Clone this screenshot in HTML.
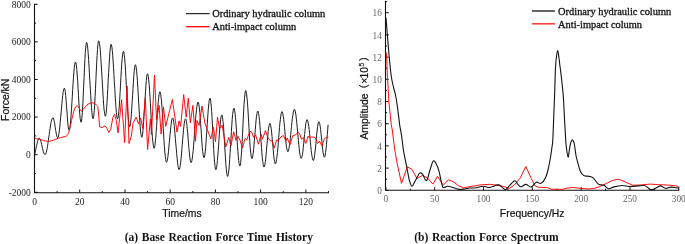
<!DOCTYPE html>
<html><head><meta charset="utf-8"><title>Reaction force charts</title>
<style>
html,body{margin:0;padding:0;background:#fff;}
body{width:685px;height:244px;overflow:hidden;}
svg{display:block}
.tk{font-family:"Liberation Serif","Times New Roman",serif;font-size:9.5px;fill:#222;}
.tk2{font-family:"Liberation Serif","Times New Roman",serif;font-size:9.3px;fill:#666;}
.lg{font-family:"Liberation Serif","Times New Roman",serif;font-size:10.4px;fill:#111;stroke:#111;stroke-width:0.3px;}
.ax{font-family:"Liberation Sans",Arial,sans-serif;font-size:10.4px;fill:#111;stroke:#111;stroke-width:0.2px;}
.cap{font-family:"Liberation Serif","Times New Roman",serif;font-size:11.5px;font-weight:bold;fill:#111;word-spacing:0.8px;}
</style></head><body>
<svg width="685" height="244" viewBox="0 0 685 244">
<rect width="685" height="244" fill="#fff"/>
<!-- left chart -->
<path d="M34.5,3.7 V192.7 H329.0" fill="none" stroke="#111" stroke-width="1.1"/>
<path d="M34.5,192.3h3.2 M34.5,173.5h1.6 M34.5,154.7h3.2 M34.5,135.9h1.6 M34.5,117.1h3.2 M34.5,98.3h1.6 M34.5,79.5h3.2 M34.5,60.7h1.6 M34.5,41.9h3.2 M34.5,23.1h1.6 M34.5,4.3h3.2 M34.5,192.7v-3.2 M57.1,192.7v-1.6 M79.7,192.7v-3.2 M102.3,192.7v-1.6 M125.0,192.7v-3.2 M147.6,192.7v-1.6 M170.2,192.7v-3.2 M192.8,192.7v-1.6 M215.4,192.7v-3.2 M238.0,192.7v-1.6 M260.6,192.7v-3.2 M283.3,192.7v-1.6 M305.9,192.7v-3.2 M328.5,192.7v-1.6" fill="none" stroke="#111" stroke-width="1"/>
<text class="tk" x="30.8" y="195.5" text-anchor="end">-2000</text>
<text class="tk" x="30.8" y="157.9" text-anchor="end">0</text>
<text class="tk" x="30.8" y="120.3" text-anchor="end">2000</text>
<text class="tk" x="30.8" y="82.7" text-anchor="end">4000</text>
<text class="tk" x="30.8" y="45.1" text-anchor="end">6000</text>
<text class="tk" x="30.8" y="7.5" text-anchor="end">8000</text>
<text class="tk" x="34.5" y="204.7" text-anchor="middle">0</text>
<text class="tk" x="79.7" y="204.7" text-anchor="middle">20</text>
<text class="tk" x="125.0" y="204.7" text-anchor="middle">40</text>
<text class="tk" x="170.2" y="204.7" text-anchor="middle">60</text>
<text class="tk" x="215.4" y="204.7" text-anchor="middle">80</text>
<text class="tk" x="260.6" y="204.7" text-anchor="middle">100</text>
<text class="tk" x="305.9" y="204.7" text-anchor="middle">120</text>
<path d="M34.6,154.5 L35.0,153.1 L35.4,151.3 L35.8,149.4 L36.2,147.3 L36.7,145.3 L37.1,143.4 L37.5,141.6 L37.9,140.2 L38.4,139.1 L38.8,138.4 L39.2,138.2 L39.6,138.4 L40.0,139.0 L40.4,140.0 L40.9,141.3 L41.3,142.9 L41.7,144.6 L42.1,146.4 L42.5,148.3 L42.9,150.0 L43.3,151.6 L43.8,152.9 L44.2,153.9 L44.6,154.5 L45.0,154.7 L45.4,154.4 L45.8,153.7 L46.2,152.5 L46.7,150.8 L47.1,148.7 L47.5,146.3 L47.9,143.6 L48.3,140.7 L48.7,137.7 L49.2,134.6 L49.6,131.6 L50.0,128.7 L50.4,126.0 L50.8,123.6 L51.2,121.5 L51.7,119.8 L52.1,118.6 L52.5,117.9 L52.9,117.6 L53.3,117.9 L53.7,119.0 L54.1,120.6 L54.5,122.6 L54.9,125.1 L55.3,127.7 L55.7,130.3 L56.1,132.8 L56.5,134.8 L56.9,136.4 L57.3,137.5 L57.7,137.8 L58.1,137.3 L58.5,135.9 L59.0,133.6 L59.4,130.5 L59.8,126.8 L60.2,122.5 L60.6,117.8 L61.1,113.0 L61.5,108.2 L61.9,103.5 L62.3,99.2 L62.7,95.5 L63.1,92.4 L63.6,90.1 L64.0,88.7 L64.4,88.2 L64.8,89.1 L65.3,91.5 L65.7,95.5 L66.1,100.5 L66.5,106.3 L67.0,112.2 L67.4,118.0 L67.8,123.0 L68.2,127.0 L68.7,129.4 L69.1,130.3 L69.5,129.6 L69.9,127.7 L70.3,124.5 L70.7,120.3 L71.1,115.1 L71.5,109.2 L71.9,102.8 L72.3,96.2 L72.7,89.5 L73.1,83.1 L73.5,77.2 L73.9,72.0 L74.3,67.8 L74.7,64.6 L75.1,62.7 L75.5,62.0 L75.9,62.9 L76.4,65.5 L76.8,69.6 L77.2,75.0 L77.7,81.5 L78.1,88.5 L78.5,95.8 L78.9,102.8 L79.4,109.3 L79.8,114.7 L80.2,118.8 L80.7,121.4 L81.1,122.3 L81.5,121.1 L81.9,117.7 L82.4,112.3 L82.8,105.0 L83.2,96.5 L83.6,87.2 L84.1,77.5 L84.5,68.2 L84.9,59.7 L85.3,52.4 L85.8,47.0 L86.2,43.6 L86.6,42.4 L87.0,43.1 L87.4,45.3 L87.8,48.8 L88.2,53.6 L88.6,59.4 L89.0,66.0 L89.4,73.1 L89.8,80.6 L90.3,88.1 L90.7,95.2 L91.1,101.8 L91.5,107.6 L91.9,112.4 L92.3,115.9 L92.7,118.1 L93.1,118.8 L93.5,117.8 L93.9,114.9 L94.3,110.3 L94.7,104.1 L95.1,96.7 L95.5,88.5 L95.9,79.8 L96.3,71.1 L96.7,62.9 L97.1,55.5 L97.5,49.3 L97.9,44.7 L98.3,41.8 L98.7,40.8 L99.1,41.5 L99.5,43.7 L100.0,47.2 L100.4,51.9 L100.8,57.6 L101.2,64.1 L101.6,71.2 L102.1,78.5 L102.5,85.9 L102.9,93.0 L103.3,99.5 L103.7,105.2 L104.1,109.9 L104.6,113.4 L105.0,115.6 L105.4,116.3 L105.8,115.4 L106.2,112.7 L106.6,108.4 L107.0,102.7 L107.4,95.9 L107.8,88.3 L108.2,80.3 L108.7,72.3 L109.1,64.7 L109.5,57.9 L109.9,52.2 L110.3,47.9 L110.7,45.2 L111.1,44.3 L111.5,45.0 L111.9,47.1 L112.3,50.6 L112.7,55.2 L113.1,60.9 L113.5,67.3 L113.9,74.3 L114.3,81.5 L114.8,88.8 L115.2,95.8 L115.6,102.2 L116.0,107.9 L116.4,112.5 L116.8,116.0 L117.2,118.1 L117.6,118.8 L118.0,118.0 L118.4,115.5 L118.8,111.4 L119.3,106.1 L119.7,99.7 L120.1,92.6 L120.5,85.1 L120.9,77.5 L121.3,70.4 L121.7,64.0 L122.2,58.7 L122.6,54.6 L123.0,52.1 L123.4,51.3 L123.8,52.1 L124.2,54.6 L124.7,58.5 L125.1,63.8 L125.5,70.1 L125.9,77.4 L126.3,85.1 L126.8,92.9 L127.2,100.6 L127.6,107.8 L128.0,114.2 L128.4,119.5 L128.9,123.4 L129.3,125.9 L129.7,126.7 L130.1,125.9 L130.5,123.6 L130.9,119.9 L131.3,115.0 L131.7,109.2 L132.1,102.6 L132.6,95.7 L133.0,88.8 L133.4,82.2 L133.8,76.4 L134.2,71.5 L134.6,67.8 L135.0,65.5 L135.4,64.7 L135.8,65.4 L136.2,67.5 L136.6,70.8 L137.0,75.3 L137.4,80.8 L137.8,87.1 L138.2,93.9 L138.6,101.0 L139.0,108.1 L139.4,114.9 L139.8,121.2 L140.2,126.7 L140.6,131.2 L141.0,134.5 L141.4,136.6 L141.8,137.3 L142.2,136.5 L142.6,134.2 L143.0,130.4 L143.4,125.3 L143.8,119.3 L144.2,112.6 L144.7,105.5 L145.1,98.4 L145.5,91.7 L145.9,85.7 L146.3,80.6 L146.7,76.8 L147.1,74.5 L147.5,73.7 L147.9,74.4 L148.3,76.5 L148.7,80.0 L149.2,84.6 L149.6,90.3 L150.0,96.7 L150.4,103.7 L150.8,111.0 L151.2,118.3 L151.6,125.3 L152.0,131.7 L152.4,137.4 L152.9,142.0 L153.3,145.5 L153.7,147.6 L154.1,148.3 L154.5,147.6 L154.9,145.5 L155.3,142.1 L155.8,137.6 L156.2,132.3 L156.6,126.3 L157.0,120.0 L157.4,113.7 L157.8,107.7 L158.2,102.4 L158.7,97.9 L159.1,94.5 L159.5,92.4 L159.9,91.7 L160.3,92.4 L160.7,94.4 L161.1,97.6 L161.6,102.0 L162.0,107.4 L162.4,113.5 L162.8,120.1 L163.2,127.0 L163.6,133.9 L164.0,140.5 L164.4,146.6 L164.8,152.0 L165.3,156.4 L165.7,159.6 L166.1,161.6 L166.5,162.3 L166.9,161.8 L167.3,160.4 L167.7,158.1 L168.1,155.0 L168.5,151.2 L168.9,147.0 L169.3,142.4 L169.8,137.8 L170.2,133.2 L170.6,129.0 L171.0,125.2 L171.4,122.1 L171.8,119.8 L172.2,118.4 L172.6,117.9 L173.0,118.4 L173.4,119.9 L173.8,122.3 L174.2,125.5 L174.6,129.4 L175.0,133.9 L175.4,138.7 L175.8,143.8 L176.3,148.9 L176.7,153.7 L177.1,158.2 L177.5,162.1 L177.9,165.3 L178.3,167.7 L178.7,169.2 L179.1,169.7 L179.5,169.2 L179.9,167.8 L180.3,165.4 L180.7,162.2 L181.1,158.4 L181.5,154.0 L181.9,149.2 L182.3,144.2 L182.7,139.3 L183.1,134.5 L183.5,130.1 L183.9,126.3 L184.3,123.1 L184.7,120.7 L185.1,119.3 L185.5,118.8 L185.9,119.4 L186.4,121.3 L186.8,124.3 L187.2,128.3 L187.7,132.9 L188.1,138.1 L188.5,143.3 L188.9,148.5 L189.4,153.1 L189.8,157.1 L190.2,160.1 L190.7,162.0 L191.1,162.6 L191.5,162.1 L191.9,160.6 L192.3,158.1 L192.7,154.7 L193.2,150.6 L193.6,145.8 L194.0,140.6 L194.4,135.1 L194.8,129.5 L195.2,124.0 L195.6,118.8 L196.0,114.0 L196.5,109.9 L196.9,106.5 L197.3,104.0 L197.7,102.5 L198.1,102.0 L198.5,102.7 L198.9,104.8 L199.4,108.1 L199.8,112.5 L200.2,117.8 L200.6,123.7 L201.1,129.8 L201.5,136.0 L201.9,141.9 L202.3,147.2 L202.7,151.6 L203.2,154.9 L203.6,157.0 L204.0,157.7 L204.4,157.0 L204.8,155.1 L205.2,152.0 L205.6,147.9 L206.0,142.8 L206.4,137.1 L206.8,131.1 L207.2,124.8 L207.6,118.8 L208.0,113.1 L208.4,108.0 L208.8,103.9 L209.2,100.8 L209.6,98.9 L210.0,98.2 L210.4,99.1 L210.8,101.7 L211.2,106.0 L211.7,111.7 L212.1,118.4 L212.5,126.0 L212.9,133.9 L213.3,141.9 L213.7,149.5 L214.1,156.2 L214.6,161.9 L215.0,166.2 L215.4,168.8 L215.8,169.7 L216.2,169.1 L216.6,167.3 L217.0,164.5 L217.4,160.6 L217.8,156.0 L218.2,150.8 L218.6,145.2 L219.0,139.4 L219.4,133.8 L219.8,128.6 L220.2,124.0 L220.6,120.1 L221.0,117.3 L221.4,115.5 L221.8,114.9 L222.2,115.7 L222.6,117.9 L223.0,121.6 L223.5,126.5 L223.9,132.3 L224.3,138.8 L224.7,145.7 L225.1,152.5 L225.5,159.0 L225.9,164.8 L226.4,169.7 L226.8,173.4 L227.2,175.6 L227.6,176.4 L228.0,175.7 L228.4,173.4 L228.9,169.9 L229.3,165.1 L229.7,159.3 L230.1,152.8 L230.5,145.8 L231.0,138.7 L231.4,131.7 L231.8,125.2 L232.2,119.4 L232.6,114.6 L233.1,111.1 L233.5,108.8 L233.9,108.1 L234.3,108.7 L234.7,110.6 L235.1,113.6 L235.5,117.7 L235.9,122.6 L236.3,128.1 L236.7,134.1 L237.1,140.1 L237.5,146.1 L237.9,151.6 L238.3,156.5 L238.7,160.6 L239.1,163.6 L239.5,165.5 L239.9,166.1 L240.3,165.2 L240.7,162.4 L241.1,157.9 L241.6,151.9 L242.0,144.7 L242.4,136.7 L242.8,128.3 L243.2,119.9 L243.6,111.9 L244.0,104.7 L244.5,98.7 L244.9,94.2 L245.3,91.4 L245.7,90.5 L246.1,91.2 L246.5,93.4 L246.9,97.0 L247.4,101.8 L247.8,107.5 L248.2,114.0 L248.6,121.0 L249.0,128.1 L249.4,135.1 L249.8,141.6 L250.2,147.3 L250.7,152.1 L251.1,155.7 L251.5,157.9 L251.9,158.6 L252.3,158.0 L252.7,156.2 L253.2,153.4 L253.6,149.6 L254.0,145.1 L254.4,140.1 L254.9,134.8 L255.3,129.5 L255.7,124.5 L256.1,120.0 L256.5,116.2 L257.0,113.4 L257.4,111.6 L257.8,111.0 L258.2,111.6 L258.6,113.4 L259.0,116.4 L259.5,120.3 L259.9,125.0 L260.3,130.4 L260.7,136.1 L261.1,142.0 L261.5,147.7 L261.9,153.1 L262.3,157.8 L262.8,161.7 L263.2,164.7 L263.6,166.5 L264.0,167.1 L264.4,166.6 L264.8,164.9 L265.3,162.3 L265.7,158.9 L266.1,154.7 L266.5,150.1 L266.9,145.2 L267.4,140.4 L267.8,135.8 L268.2,131.6 L268.6,128.2 L269.1,125.6 L269.5,123.9 L269.9,123.4 L270.3,124.0 L270.7,125.7 L271.2,128.5 L271.6,132.1 L272.0,136.5 L272.4,141.2 L272.9,146.1 L273.3,150.8 L273.7,155.2 L274.1,158.8 L274.6,161.6 L275.0,163.3 L275.4,163.9 L275.8,163.4 L276.2,161.9 L276.6,159.5 L277.0,156.2 L277.5,152.3 L277.9,147.8 L278.3,142.9 L278.7,137.8 L279.1,132.6 L279.5,127.7 L279.9,123.2 L280.4,119.3 L280.8,116.0 L281.2,113.6 L281.6,112.1 L282.0,111.6 L282.4,112.1 L282.8,113.6 L283.2,116.0 L283.7,119.2 L284.1,123.0 L284.5,127.2 L284.9,131.7 L285.3,136.2 L285.7,140.4 L286.1,144.2 L286.6,147.4 L287.0,149.8 L287.4,151.3 L287.8,151.8 L288.2,151.4 L288.6,150.2 L289.0,148.2 L289.4,145.6 L289.9,142.4 L290.3,138.7 L290.7,134.7 L291.1,130.6 L291.5,126.4 L291.9,122.4 L292.3,118.7 L292.8,115.5 L293.2,112.9 L293.6,110.9 L294.0,109.7 L294.4,109.3 L294.8,109.7 L295.2,111.0 L295.6,113.0 L296.0,115.7 L296.4,119.1 L296.8,122.9 L297.2,127.1 L297.6,131.6 L298.0,136.1 L298.4,140.6 L298.8,144.8 L299.2,148.6 L299.6,152.0 L300.0,154.7 L300.4,156.7 L300.8,158.0 L301.2,158.4 L301.6,157.9 L302.0,156.5 L302.5,154.2 L302.9,151.1 L303.3,147.4 L303.7,143.3 L304.1,139.0 L304.6,134.7 L305.0,130.6 L305.4,126.9 L305.8,123.8 L306.3,121.5 L306.7,120.1 L307.1,119.6 L307.5,120.0 L307.9,121.4 L308.3,123.5 L308.8,126.4 L309.2,129.8 L309.6,133.7 L310.0,137.9 L310.4,142.2 L310.8,146.4 L311.2,150.3 L311.6,153.7 L312.1,156.6 L312.5,158.7 L312.9,160.1 L313.3,160.5 L313.7,159.9 L314.2,158.3 L314.6,155.6 L315.0,152.1 L315.5,148.0 L315.9,143.4 L316.3,138.8 L316.7,134.2 L317.2,130.1 L317.6,126.6 L318.0,123.9 L318.5,122.3 L318.9,121.7 L319.3,122.2 L319.7,123.7 L320.2,126.2 L320.6,129.4 L321.0,133.2 L321.4,137.3 L321.9,141.6 L322.3,145.7 L322.7,149.5 L323.1,152.7 L323.6,155.2 L324.0,156.7 L324.4,157.2 L324.8,156.6 L325.2,155.0 L325.6,152.3 L326.1,148.7 L326.5,144.4 L326.9,139.6 L327.3,134.6 L327.7,129.6 L328.1,124.8" fill="none" stroke="#111" stroke-width="0.95" stroke-linejoin="round"/>
<path d="M34.5,138.2 C35.4,138.4 37.8,139.0 40.0,139.5 C42.2,140.0 45.4,141.3 47.6,141.4 C49.8,141.5 51.2,140.8 53.0,140.3 C54.8,139.8 56.5,138.8 58.2,138.2 C59.9,137.6 61.5,137.4 63.0,137.0 C64.5,136.6 66.0,136.6 67.0,135.6 C68.0,134.6 68.4,133.2 69.1,131.1 C69.8,129.0 70.3,125.9 71.0,123.0 C71.7,120.1 72.5,116.0 73.2,113.5 C73.9,111.0 74.3,109.3 75.0,108.0 C75.7,106.7 76.5,105.7 77.2,105.8 C78.0,105.9 78.8,107.6 79.5,108.5 C80.2,109.4 80.8,111.1 81.5,111.1 C82.2,111.1 83.1,109.5 84.0,108.5 C84.9,107.5 86.0,105.9 87.0,105.0 C88.0,104.1 89.1,103.6 90.0,103.2 C90.9,102.8 91.7,102.7 92.6,102.8 C93.5,102.9 94.6,103.3 95.5,104.0 C96.4,104.7 97.4,106.2 97.8,106.7 L98.7,115.0 L99.6,126.7 L102.2,127.6 L104.9,125.9 L106.7,127.6 L108.9,132.6 L110.7,129.4 L112.8,117.9 L114.6,114.4 L116.3,120.6 L118.1,132.9 L121.6,99.7 L124.6,142.6 L127.1,85.9 L129.0,143.5 L131.3,136.4 L133.0,123.0 L136.2,117.2 L138.6,123.8 L140.6,118.0 L142.7,128.4 L145.3,97.8 L147.6,149.6 L150.4,118.7 L151.4,134.6 L154.5,75.0 L156.5,120.0 L159.1,105.4 L161.1,134.1 L163.5,106.9 L165.7,126.4 L172.4,99.4 L177.0,132.0 L179.1,120.8 L180.6,126.4 L183.7,94.6 L186.2,117.2 L188.3,98.2 L190.3,122.8 L192.9,105.4 L195.5,141.3 L197.0,120.4 L199.1,125.5 L202.0,106.0 L204.7,122.4 L206.3,127.0 L210.9,138.8 L213.4,127.0 L215.5,141.9 L217.5,117.3 L219.6,128.6 L222.2,125.0 L225.7,147.0 L228.8,137.3 L230.9,146.0 L233.7,131.7 L236.0,140.4 L238.0,136.3 L240.1,140.4 L242.4,148.0 L245.2,138.3 L246.8,139.9 L249.8,131.1 L251.9,132.4 L253.5,137.4 L255.6,134.7 L258.4,144.2 L261.2,134.3 L262.4,139.3 L265.5,130.6 L268.0,138.0 L269.9,140.5 L272.3,141.1 L274.2,148.0 L276.7,139.9 L278.3,140.5 L281.0,136.8 L283.3,135.5 L286.0,141.1 L287.2,138.0 L290.0,144.9 L292.8,135.5 L295.3,134.9 L298.4,132.4 L299.6,133.7 L301.5,139.3 L303.3,137.4 L305.8,143.4 L308.1,136.2 L309.3,138.0 L310.8,137.0 L313.9,137.0 L315.8,138.6 L317.6,143.6 L319.5,141.1 L322.0,146.1 L324.4,138.6 L326.3,137.4 L328.4,137.2" fill="none" stroke="#f00" stroke-width="0.95" stroke-linejoin="round"/>
<path d="M186,13.65H209.7" stroke="#111" stroke-width="1.1"/>
<path d="M186,26.7H209.7" stroke="#f00" stroke-width="1.3"/>
<text class="lg" x="212.2" y="17.4">Ordinary hydraulic column</text>
<text class="lg" x="212.2" y="30.3">Anti-impact column</text>
<text class="ax" transform="translate(9.4,120.9) rotate(-90)">Force/kN</text>
<text class="ax" x="182" y="216.8" text-anchor="middle">Time/ms</text>
<text class="cap" x="218.8" y="240.9" text-anchor="middle">(a) Base Reaction Force Time History</text>
<!-- right chart -->
<path d="M385.5,0.7 V190.3 H679.3" fill="none" stroke="#111" stroke-width="1.1"/>
<path d="M385.5,190.3h3.2 M385.5,179.2h1.6 M385.5,168.1h3.2 M385.5,157.0h1.6 M385.5,145.9h3.2 M385.5,134.8h1.6 M385.5,123.7h3.2 M385.5,112.6h1.6 M385.5,101.5h3.2 M385.5,90.4h1.6 M385.5,79.3h3.2 M385.5,68.2h1.6 M385.5,57.1h3.2 M385.5,46.0h1.6 M385.5,34.9h3.2 M385.5,23.8h1.6 M385.5,12.7h3.2 M385.5,1.6h1.6 M385.9,190.3v-3.2 M410.3,190.3v-1.6 M434.7,190.3v-3.2 M459.1,190.3v-1.6 M483.5,190.3v-3.2 M507.9,190.3v-1.6 M532.3,190.3v-3.2 M556.8,190.3v-1.6 M581.2,190.3v-3.2 M605.6,190.3v-1.6 M630.0,190.3v-3.2 M654.4,190.3v-1.6 M678.8,190.3v-3.2" fill="none" stroke="#111" stroke-width="1"/>
<text class="tk2" x="381.8" y="193.9" text-anchor="end">0</text>
<text class="tk2" x="381.8" y="171.7" text-anchor="end">2</text>
<text class="tk2" x="381.8" y="149.5" text-anchor="end">4</text>
<text class="tk2" x="381.8" y="127.3" text-anchor="end">6</text>
<text class="tk2" x="381.8" y="105.1" text-anchor="end">8</text>
<text class="tk2" x="381.8" y="82.9" text-anchor="end">10</text>
<text class="tk2" x="381.8" y="60.7" text-anchor="end">12</text>
<text class="tk2" x="381.8" y="38.5" text-anchor="end">14</text>
<text class="tk2" x="381.8" y="16.3" text-anchor="end">16</text>
<text class="tk2" x="385.9" y="202" text-anchor="middle">0</text>
<text class="tk2" x="434.7" y="202" text-anchor="middle">50</text>
<text class="tk2" x="483.5" y="202" text-anchor="middle">100</text>
<text class="tk2" x="532.3" y="202" text-anchor="middle">150</text>
<text class="tk2" x="581.2" y="202" text-anchor="middle">200</text>
<text class="tk2" x="630.0" y="202" text-anchor="middle">250</text>
<text class="tk2" x="678.8" y="202" text-anchor="middle">300</text>
<path d="M386.0,52.0 L386.5,55.0 L387.4,75.0 L388.9,102.0 L391.3,125.0 L392.3,130.0 L394.8,150.0 L397.2,163.5 L401.5,183.5 L407.3,166.8 L412.0,169.3 L416.9,178.5 L422.4,175.4 L427.4,177.9 L432.9,184.1 L437.6,176.3 L443.3,185.3 L448.3,179.8 L453.2,181.6 L458.7,185.9 L463.7,187.8 L472.3,186.2 L479.7,185.0 L489.5,184.3 L498.1,185.3 L505.5,187.1 L509.2,188.4 L514.1,185.3 L520.3,177.9 L525.8,166.5 L531.3,178.5 L535.0,185.9 L537.5,187.1 L544.0,187.5 L546.2,187.4 L548.6,188.0 L551.1,189.2 L562.1,189.4 L567.1,188.1 L573.2,187.5 L580.6,188.4 L589.2,189.0 L594.1,188.4 L599.0,186.9 L605.2,184.1 L611.3,181.0 L615.0,179.8 L618.7,179.4 L621.8,180.4 L625.6,182.2 L633.0,185.3 L641.6,184.9 L650.2,184.1 L658.8,184.7 L667.4,185.0 L674.8,185.7 L678.7,186.5" fill="none" stroke="#f00" stroke-width="0.95" stroke-linejoin="round"/>
<path d="M386.0,18.0 C386.4,23.3 387.8,40.5 388.6,50.0 C389.5,59.5 390.3,69.0 391.1,75.0 C391.9,81.0 392.5,82.8 393.2,86.0 C393.9,89.2 394.7,91.3 395.4,94.5 C396.1,97.7 396.5,99.9 397.2,105.0 C397.9,110.1 399.0,120.0 399.7,125.0 C400.4,130.0 400.9,130.8 401.5,135.0 C402.1,139.2 402.7,145.4 403.4,150.0 C404.1,154.6 405.1,158.8 405.8,162.3 C406.5,165.8 406.9,168.1 407.5,171.0 C408.1,173.9 408.6,177.5 409.3,180.0 C410.1,182.5 410.9,186.2 412.0,186.2 C413.1,186.2 414.4,182.2 415.7,180.0 C417.0,177.8 418.5,174.2 419.6,173.2 C420.7,172.2 421.2,172.7 422.4,173.9 C423.5,175.1 425.2,181.1 426.5,180.4 C427.8,179.8 428.9,173.2 430.0,170.0 C431.1,166.8 432.1,162.2 433.1,161.1 C434.1,160.0 435.0,161.8 436.0,163.5 C437.0,165.2 438.2,168.4 439.0,171.2 C439.8,173.9 440.3,177.4 440.9,180.0 C441.5,182.6 442.1,185.7 442.7,186.9 C443.3,188.1 443.7,187.5 444.5,187.4 C445.3,187.3 446.1,186.1 447.7,186.2 C449.2,186.3 452.0,187.3 453.8,187.8 C455.6,188.3 456.9,189.2 458.7,189.4 C460.5,189.6 463.0,189.2 464.9,189.0 C466.8,188.8 467.9,188.2 469.8,188.0 C471.7,187.8 473.7,188.1 476.0,187.8 C478.3,187.5 481.2,186.2 483.4,186.2 C485.5,186.1 486.4,187.7 488.9,187.5 C491.3,187.3 496.0,185.0 498.1,184.9 C500.2,184.8 500.6,186.3 501.8,187.1 C503.0,187.9 504.3,189.8 505.5,189.6 C506.7,189.4 507.7,187.4 509.2,185.9 C510.7,184.4 513.3,181.0 514.7,180.7 C516.1,180.4 516.8,183.1 517.8,184.1 C518.8,185.1 519.6,186.8 520.9,186.8 C522.2,186.9 524.1,184.4 525.8,184.4 C527.5,184.4 529.5,187.3 531.3,186.9 C533.0,186.5 534.8,182.8 536.3,182.2 C537.8,181.6 539.0,183.5 540.0,183.5 C541.0,183.5 541.8,182.7 542.5,182.2 C543.2,181.7 543.4,181.4 544.0,180.4 C544.6,179.4 545.5,177.7 546.2,176.0 C546.9,174.3 547.3,172.9 548.0,170.0 C548.7,167.1 549.6,162.5 550.3,158.5 C551.0,154.5 551.7,149.3 552.1,146.2 C552.5,143.1 552.5,145.2 552.8,140.0 C553.1,134.8 553.5,122.5 553.8,115.0 C554.1,107.5 554.3,102.5 554.6,95.0 C554.9,87.5 555.1,76.2 555.4,70.0 C555.7,63.8 555.9,61.2 556.3,58.0 C556.7,54.8 557.2,50.5 557.7,50.5 C558.2,50.5 558.6,55.6 559.0,58.0 C559.4,60.4 559.5,63.0 559.8,65.0 C560.0,67.0 559.9,65.0 560.5,70.0 C561.1,75.0 562.6,87.5 563.2,95.0 C563.8,102.5 563.9,107.5 564.3,115.0 C564.7,122.5 565.3,134.2 565.7,140.0 C566.1,145.8 566.3,147.1 566.7,150.0 C567.1,152.9 567.7,157.0 568.1,157.2 C568.5,157.4 568.9,153.0 569.2,151.0 C569.6,149.0 569.8,146.7 570.2,145.0 C570.6,143.3 571.0,141.9 571.4,141.0 C571.8,140.1 572.0,139.7 572.4,139.8 C572.8,139.9 573.1,140.6 573.5,141.5 C573.9,142.4 574.1,142.6 574.5,145.0 C574.9,147.4 575.4,152.5 576.1,156.0 C576.8,159.5 577.9,163.2 578.6,165.8 C579.3,168.4 579.9,170.1 580.5,171.5 C581.1,172.9 581.4,173.3 582.0,174.0 C582.6,174.7 583.1,175.4 584.3,175.8 C585.5,176.2 587.8,176.1 589.2,176.4 C590.6,176.7 591.7,176.7 592.9,177.7 C594.1,178.7 595.6,181.1 596.6,182.2 C597.6,183.3 598.0,183.9 599.0,184.4 C600.0,184.9 601.9,184.8 602.7,185.0 C603.6,185.2 603.5,184.9 604.1,185.3 C604.7,185.7 605.6,186.9 606.5,187.5 C607.4,188.1 608.0,188.8 609.2,188.7 C610.4,188.6 611.7,187.4 613.8,186.9 C615.9,186.4 619.3,185.6 621.9,185.5 C624.5,185.4 626.6,186.4 629.3,186.5 C632.0,186.6 635.4,186.1 637.9,185.9 C640.4,185.7 642.6,185.3 644.1,185.5 C645.6,185.7 646.1,186.4 647.1,187.1 C648.1,187.8 649.2,189.0 650.2,189.4 C651.2,189.8 652.2,189.7 653.3,189.4 C654.4,189.1 655.8,188.0 657.0,187.4 C658.2,186.8 659.6,185.9 660.7,185.9 C661.8,185.9 662.8,187.1 663.7,187.5 C664.6,187.9 665.0,188.5 666.2,188.4 C667.4,188.3 669.5,187.2 671.1,187.1 C672.7,187.0 674.7,187.6 676.0,187.8 C677.3,188.0 678.2,188.1 678.7,188.1" fill="none" stroke="#111" stroke-width="1.1" stroke-linejoin="round"/>
<path d="M532,11H555" stroke="#111" stroke-width="1.3"/>
<path d="M532,23.8H555" stroke="#f33" stroke-width="1.5"/>
<text class="lg" x="558.1" y="14.8">Ordinary hydraulic column</text>
<text class="lg" x="558.1" y="27.6">Anti-impact column</text>
<text class="ax" transform="translate(367.7,139.6) rotate(-90)"><tspan x="0">Amplitude</tspan><tspan x="44.8" font-family="'Liberation Sans','Noto Sans CJK SC',sans-serif">（</tspan><tspan x="55.9">×</tspan><tspan x="61.2">10</tspan><tspan x="73" font-size="6.5" dy="-3.6">5</tspan><tspan x="78.3" dy="3.6" font-family="'Liberation Sans','Noto Sans CJK SC',sans-serif">）</tspan></text>
<text class="ax" x="532.2" y="216.5" text-anchor="middle">Frequency/Hz</text>
<text class="cap" x="486.4" y="241" text-anchor="middle">(b) Reaction Force Spectrum</text>
</svg>
</body></html>
